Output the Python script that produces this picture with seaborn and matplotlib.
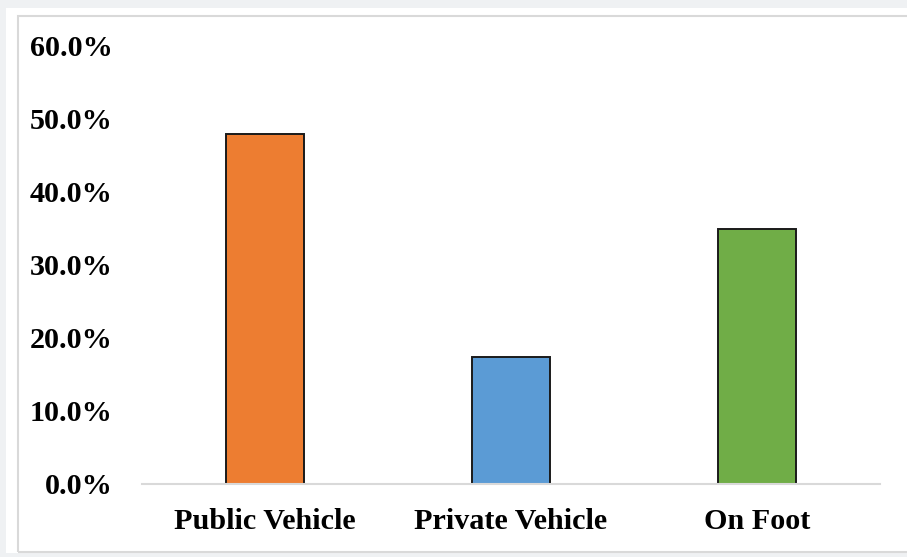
import matplotlib
matplotlib.use("Agg")
import matplotlib.pyplot as plt
from matplotlib.patches import Rectangle
from matplotlib.ticker import PercentFormatter
import seaborn as sns
import pandas as pd

# Share of trips by travel mode
modes = ["Public Vehicle", "Private Vehicle", "On Foot"]
shares = [0.479, 0.174, 0.349]
colors = ["#ED7D31", "#5B9BD5", "#70AD47"]
yticks = [0.0, 0.1, 0.2, 0.3, 0.4, 0.5, 0.6]

df = pd.DataFrame({"mode": modes, "share": shares})

sns.set_theme(style="white")
plt.rcParams["font.family"] = ["Liberation Serif", "DejaVu Serif"]

W, H = 907, 557
fig = plt.figure(figsize=(W / 100, H / 100), dpi=100)
fig.patch.set_facecolor("#EFF1F3")

# white chart area and its thin frame, kept behind the axes
fig.patches.append(Rectangle((6 / W, (H - 553) / H), (W - 6) / W, (553 - 8) / H,
                             transform=fig.transFigure, facecolor="white",
                             edgecolor="none", zorder=-10))
fig.patches.append(Rectangle((17.5 / W, (H - 552) / H), (W + 10 - 17.5) / W, (552 - 16) / H,
                             transform=fig.transFigure, facecolor="none",
                             edgecolor="#D9D9D9", linewidth=1.5, zorder=-9))

ax = fig.add_axes([142 / W, (H - 484) / H, (880 - 142) / W, (484 - 45) / H])
ax.set_facecolor("none")
ax.set_zorder(5)

sns.barplot(data=df, x="mode", y="share", hue="mode", palette=colors,
            saturation=1, legend=False, width=0.32, edgecolor="#1a1a1a",
            linewidth=1.4, ax=ax, zorder=3)

ax.set_ylim(0, 0.6)
ax.set_xlim(-0.5, 2.5)
ax.set_yticks(yticks)
ax.yaxis.set_major_formatter(PercentFormatter(1.0, decimals=1))
ax.set_xlabel("")
ax.set_ylabel("")

for s in ["top", "right", "left"]:
    ax.spines[s].set_visible(False)
ax.spines["bottom"].set_color("#D9D9D9")
ax.spines["bottom"].set_linewidth(1.5)
ax.spines["bottom"].set_zorder(4)

ax.tick_params(axis="both", length=0, labelsize=21.7, colors="black")
ax.tick_params(axis="y", pad=21)
ax.tick_params(axis="x", pad=17)
for lbl in ax.get_xticklabels() + ax.get_yticklabels():
    lbl.set_fontweight("bold")
ax.grid(False)

fig.savefig("out.png", dpi=100, facecolor=fig.get_facecolor())
